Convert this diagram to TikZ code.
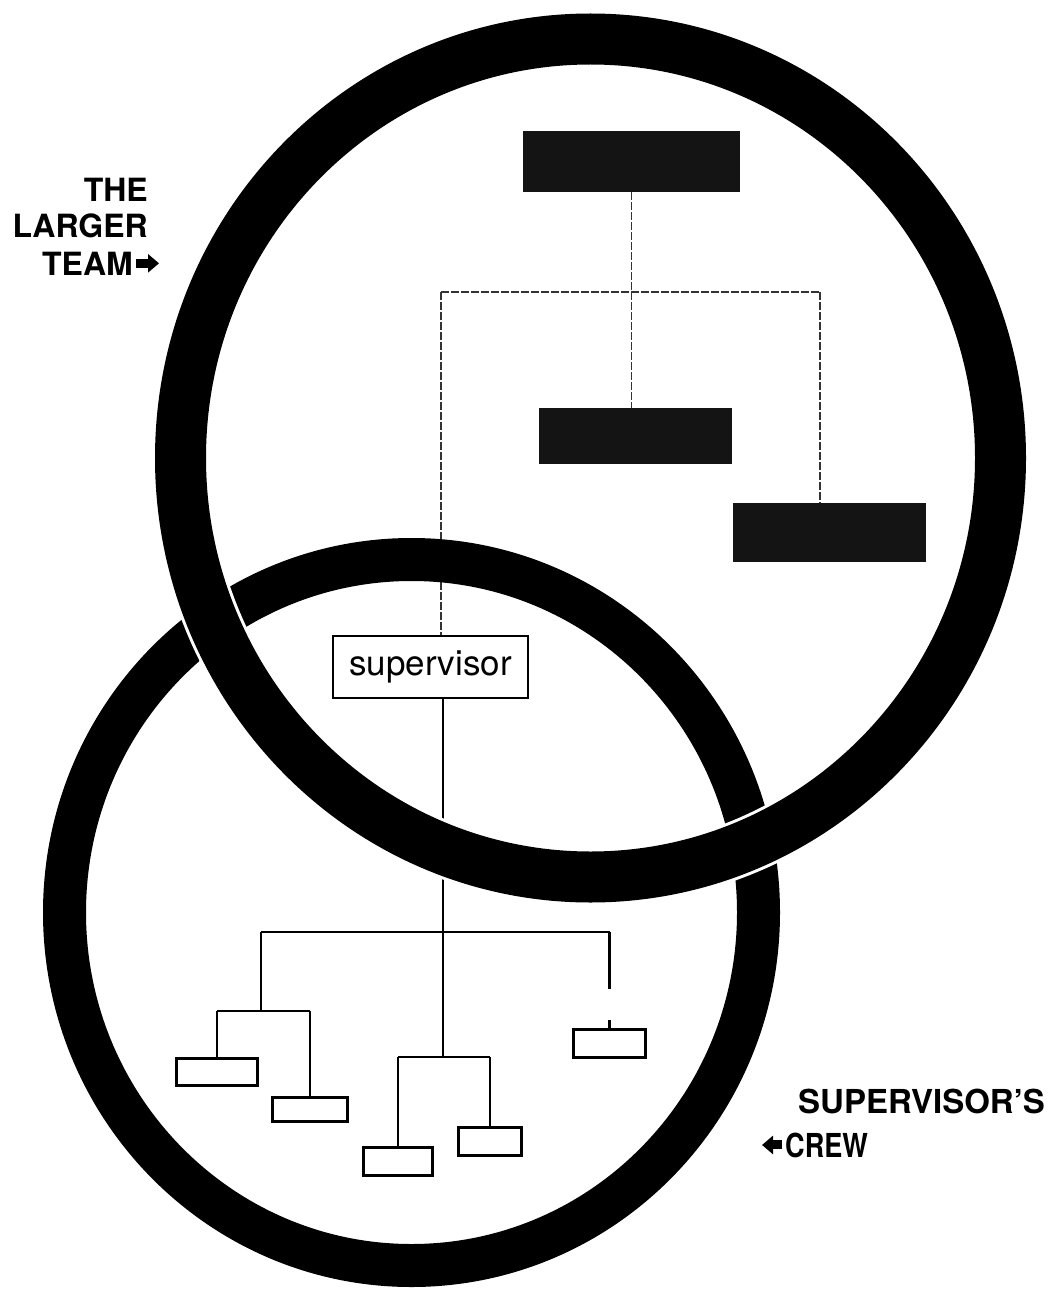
\documentclass[tikz,border=0pt]{standalone}
\usepackage{fontspec}
\setmainfont{TeX Gyre Heros}
\usetikzlibrary{arrows.meta, positioning, calc}

\begin{document}
\begin{tikzpicture}[
    x=1pt, y=-1pt,
    font=\fontsize{35}{40}\selectfont,
    darkbox/.style={fill=black!92, draw=none, inner sep=0pt},
    supbox/.style={draw=black, line width=2pt, fill=white, inner sep=0pt,
        minimum width=195pt, minimum height=62pt},
    crewbox/.style={draw=black, line width=3pt, fill=white, inner sep=0pt},
    faint/.style={black!80, line width=1.5pt, dash pattern=on 8pt off 2pt},
    link/.style={black, line width=2.2pt},
    sidetext/.style={font=\fontsize{32}{36}\selectfont\bfseries, inner sep=0pt},
    fatarrow/.style={-{Triangle[length=11pt, width=18pt]}, line width=9pt},
]
\useasboundingbox (0,0) rectangle (1061,1289);

% --- the larger team: dark boxes ---
\node[darkbox, minimum width=217pt, minimum height=61pt] (top) at (631.5,161.5) {};
\node[darkbox, minimum width=193pt, minimum height=56pt] (mid) at (635.5,436) {};
\node[darkbox, minimum width=193pt, minimum height=59pt] (side) at (829.5,532.5) {};

% --- supervisor ---
\node[supbox] (sup) at (430.5,667) {supervisor};

\coordinate (lbend) at (441,292);
\coordinate (rbend) at (820,292);
\draw[faint] (top.south) -- (top.south |- mid.north);
\draw[faint] (lbend) -- (rbend);
\draw[faint] (lbend) -- (lbend |- sup.north);
\draw[faint] (rbend) -- (rbend |- side.north);

% --- supervisor's crew ---
\node[crewbox, minimum width=81pt, minimum height=27pt] (c1) at (217,1072) {};
\node[crewbox, minimum width=75pt, minimum height=24pt] (c2) at (310,1109.5) {};
\node[crewbox, minimum width=69pt, minimum height=28pt] (c3) at (398,1161.5) {};
\node[crewbox, minimum width=63pt, minimum height=28pt] (c4) at (490,1141.5) {};
\node[crewbox, minimum width=72pt, minimum height=28pt] (c5) at (609.5,1043.5) {};

\coordinate (cfork) at (443,932);
\coordinate (cleft) at (261,932);
\coordinate (cright) at (609.5,932);
\coordinate (lfork) at (261,1011);
\coordinate (mfork) at (443,1057);
\coordinate (gaptop) at (609.5,989);
\coordinate (gapbot) at (609.5,1020);

\draw[link] (sup.south -| cfork) -- (mfork);
\draw[link] (cleft) -- (cright);
\draw[link] (cleft) -- (lfork);
\draw[link] (c1.north |- lfork) -- (c2.north |- lfork);
\draw[link] (c1.north |- lfork) -- (c1.north);
\draw[link] (c2.north |- lfork) -- (c2.north);
\draw[link] (c3.north |- mfork) -- (c4.north |- mfork);
\draw[link] (c3.north |- mfork) -- (c3.north);
\draw[link] (c4.north |- mfork) -- (c4.north);
\draw[link] (cright) -- (gaptop);
\draw[link] (gapbot) -- (c5.north);

% --- the two rings, the larger one on top ---
\draw[line width=43pt] (411.5,912.5) ellipse [x radius=347pt, y radius=353pt];
\draw[white, line width=57pt] (590.5,458) ellipse [x radius=410pt, y radius=419pt];
\draw[line width=51pt] (590.5,458) ellipse [x radius=410pt, y radius=419pt];

% --- side labels ---
\node[sidetext, anchor=base east] (the) at (148,202) {THE};
\node[sidetext, anchor=base east] (larger) at (148,238) {LARGER};
\node[sidetext, anchor=base east] (team) at (133,275) {TEAM};
\draw[fatarrow] ([xshift=3pt]team.east) -- ++(23,0);

\node[sidetext, font=\fontsize{33}{36}\selectfont\bfseries, anchor=base west] (crew1)
    at (798,1113) {SUPERVISOR'S};
\node[sidetext, font=\fontsize{33}{36}\selectfont\bfseries, anchor=base west] (crew2)
    at (785,1157) {\scalebox{0.82}[1]{CREW}};
\draw[fatarrow] ([xshift=-3pt]crew2.west) -- ++(-20,0);

\end{tikzpicture}
\end{document}
